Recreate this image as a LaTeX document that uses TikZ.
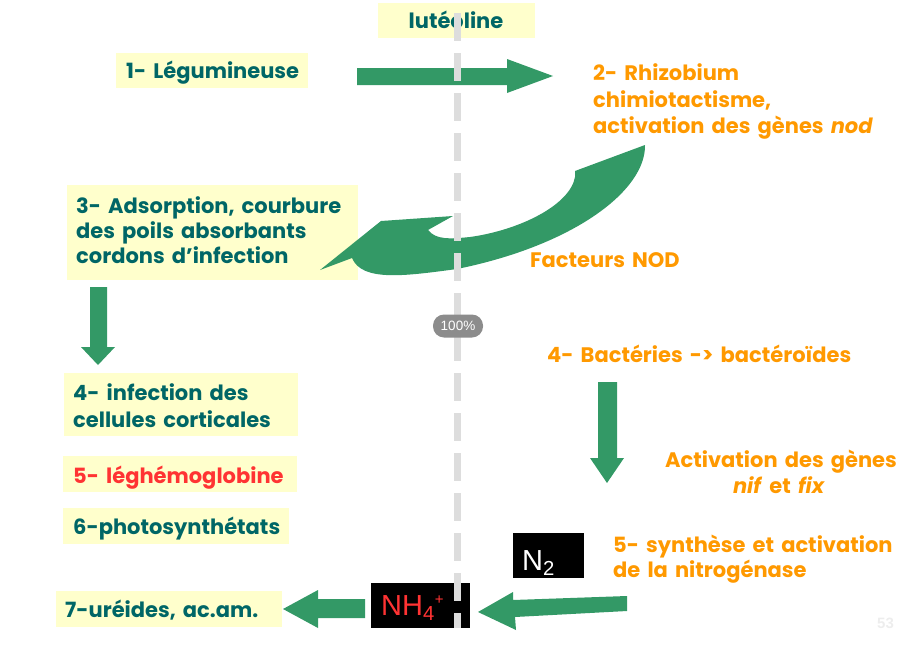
\documentclass[tikz,border=0pt]{standalone}
\usepackage{fontspec}
\setmainfont{Poppins}[WordSpace=1.6]
\newfontfamily\arialfont{Liberation Sans}
\definecolor{txtteal}{HTML}{006666}
\definecolor{txtorange}{HTML}{FF9900}
\definecolor{txtred}{HTML}{FF3333}
\definecolor{boxyellow}{HTML}{FFFFCC}
\definecolor{arrowgreen}{HTML}{339966}
\definecolor{guidegray}{HTML}{DDDDDD}
\newcommand\lblsize{\fontsize{21}{25}\selectfont}
\begin{document}
\begin{tikzpicture}[x=1pt,y=-1pt,
  ybox/.style={fill=boxyellow,inner sep=0,anchor=north west},
  lbl/.style={inner sep=0,anchor=base west,font=\lblsize\bfseries},
  tl/.style={lbl,text=txtteal},
  ol/.style={lbl,text=txtorange},
  rl/.style={lbl,text=txtred},
  blk/.style={fill=black,inner sep=0,anchor=north west},
  garrow/.style={fill=arrowgreen}]
\useasboundingbox (0,0) rectangle (915,653);

% yellow label boxes
\node[ybox,minimum width=157,minimum height=35] (bLut) at (378,3) {};
\node[ybox,minimum width=192,minimum height=35] (bLeg) at (116,53) {};
\node[ybox,minimum width=291,minimum height=95] (bAds) at (67,185) {};
\node[ybox,minimum width=234,minimum height=63] (bInf) at (64,373) {};
\node[ybox,minimum width=234,minimum height=36] (bLeh) at (63,456) {};
\node[ybox,minimum width=226,minimum height=36] (bPho) at (63,508) {};
\node[ybox,minimum width=226,minimum height=36] (bUre) at (56,591) {};

% black chemical boxes
\node[blk,minimum width=71,minimum height=45] (bN) at (513,533) {};
\node[blk,minimum width=99,minimum height=45] (bNH) at (371,583) {};

% block arrows
\fill[garrow] (357,68) -- (507,68) -- (507,59) -- (553,76) -- (507,93) -- (507,85) -- (357,85) -- cycle;
\fill[garrow] (90,287) -- (107,287) -- (107,347) -- (115,347) -- (98,365) -- (81,347) -- (90,347) -- cycle;
\fill[garrow] (598,382) -- (617,382) -- (617,458) -- (624,458) -- (607,483) -- (590,458) -- (598,458) -- cycle;
\fill[garrow] (365,599) -- (365,618) -- (318,618) -- (318,628) -- (283,609) -- (318,590) -- (318,599) -- cycle;
\fill[garrow] (478,612) -- (513,592) -- (513,600) -- (627,596) -- (627,611) -- (515,617) -- (516,630) -- cycle;
% curved arrow carrying the NOD factors
\fill[garrow] (320,270) -- (381,221) -- (453,216) -- (428,230)
  .. controls (436,240) and (450,239) .. (470,237)
  .. controls (520,230) and (570,205) .. (575,177)
  -- (575,171) -- (645,145)
  .. controls (646,190) and (575,245) .. (457,269)
  .. controls (405,276) and (362,282) .. (352,258)
  -- cycle;

% texts
\node[tl,anchor=base] (tLut) at (456,28) {lutéoline};
\node[tl] (tLeg) at (126,78) {1- Légumineuse};
\node[ol] (tRh1) at (593,80) {2- Rhizobium};
\node[ol] (tRh2) at (593,107) {chimiotactisme,};
\node[ol] (tRh3) at (593,133) {activation des gènes \textit{nod}};
\node[tl] (tAd1) at (76,213) {3- Adsorption, courbure};
\node[tl] (tAd2) at (76,238) {des poils absorbants};
\node[tl] (tAd3) at (76,263) {cordons d’infection};
\node[ol] (tNod) at (530,267) {Facteurs NOD};
\node[ol] (tBac) at (547,362) {4- Bactéries -> bactéroïdes};
\node[tl] (tIn1) at (73,400) {4- infection des};
\node[tl] (tIn2) at (73,427) {cellules corticales};
\node[rl] (tLeh) at (73,483) {5- léghémoglobine};
\node[tl] (tPho) at (73,534) {6-photosynthétats};
\node[tl] (tUre) at (65,617) {7-uréides, ac.am.};
\node[ol,anchor=base] (tAc1) at (781,467) {Activation des gènes};
\node[ol,anchor=base] (tAc2) at (779,493) {\textit{nif} et \textit{fix}};
\node[ol] (tSy1) at (613,552) {5- synthèse et activation};
\node[ol] (tSy2) at (613,577) {de la nitrogénase};
\node[inner sep=0,anchor=base west,text=white,font=\arialfont\fontsize{29}{30}\selectfont] (tN) at (522,570) {N\textsubscript{2}};
\node[inner sep=0,anchor=base west,text=txtred,font=\arialfont\fontsize{29}{30}\selectfont] (tNH) at (381,615) {NH\textsubscript{4}\raisebox{11pt}{\fontsize{15}{15}\selectfont +}};

% vertical dashed guide
\draw[guidegray,line width=7,dash pattern=on 28 off 12] (457,13) -- (457,628);

% zoom badge
\node[fill=black!45,rounded corners=11,minimum width=50,minimum height=23,inner sep=0,text=white,font=\arialfont\fontsize{13.5}{14}\selectfont] (badge) at (458,326) {100\%};

% page number
\node[inner sep=0,anchor=base west,text=black!7,font=\arialfont\bfseries\fontsize{15}{15}\selectfont] (pg) at (877,628) {53};
\end{tikzpicture}
\end{document}
